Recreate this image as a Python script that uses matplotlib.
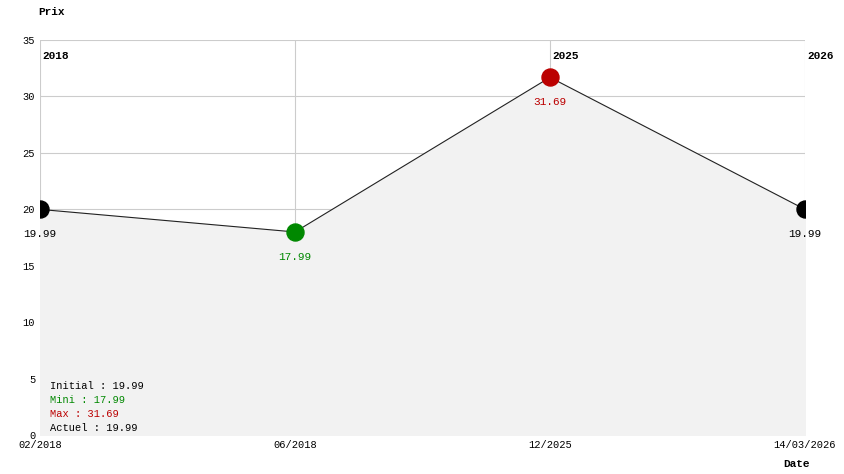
import matplotlib
matplotlib.use("Agg")
import matplotlib.pyplot as plt

dates = ["02/2018", "06/2018", "12/2025", "14/03/2026"]
prices = [19.99, 17.99, 31.69, 19.99]
point_colors = ["#000000", "#008800", "#bb0000", "#000000"]
years = {0: "2018", 2: "2025", 3: "2026"}

plt.rcParams['font.family'] = ['Liberation Mono', 'DejaVu Sans Mono']
fig = plt.figure(figsize=(8.44, 4.74), dpi=100)
ax = fig.add_axes([40/844, 1-435/474, 765/844, 395/474])
x = list(range(len(prices)))
ax.fill_between(x, prices, 0, color="#f2f2f2", zorder=1)
ax.plot(x, prices, color="#222222", lw=0.8, zorder=2)
for xi, p, c in zip(x, prices, point_colors):
    ax.scatter([xi], [p], s=150, color=c, zorder=3)
    ax.annotate(f"{p:.2f}", (xi, p), xytext=(0, -18), textcoords="offset points",
                ha="center", va="center", fontsize=8, color=c)
for xi, y in years.items():
    ax.text(xi + 0.01, 33.6, y, fontsize=8, fontweight="bold", ha="left", va="center")
ax.set_xlim(0, 3)
ax.set_ylim(0, 35)
ax.set_xticks(x)
ax.set_xticklabels(dates, fontsize=7.5)
ax.set_yticks(range(0, 36, 5))
ax.tick_params(axis="y", labelsize=7.5, length=0)
ax.tick_params(axis="x", length=0)
ax.grid(True, color="#cccccc", lw=0.8, zorder=0)
ax.set_axisbelow(True)
for s in ax.spines.values():
    s.set_visible(False)
fig.text(38/844, 1-12/474, "Prix", fontsize=8, fontweight="bold", ha="left", va="center")
fig.text(783/844, 1-464/474, "Date", fontsize=8, fontweight="bold", ha="left", va="center")
legend = [("Initial : 19.99", "#000000"), ("Mini : 17.99", "#008800"),
          ("Max : 31.69", "#bb0000"), ("Actuel : 19.99", "#000000")]
for i, (t, c) in enumerate(legend):
    fig.text(50/844, 1-(386+i*14)/474, t, fontsize=7.5, color=c, ha="left", va="center")
fig.savefig("out.png")
